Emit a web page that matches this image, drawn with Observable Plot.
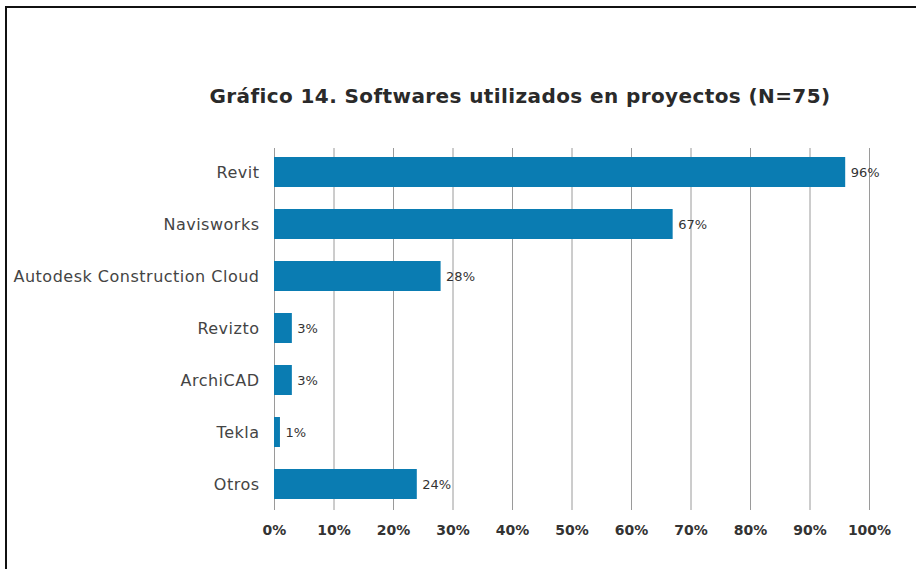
<!DOCTYPE html>
<html>
<head>
<meta charset="utf-8">
<script src="https://cdn.jsdelivr.net/npm/d3@7"></script>
<script src="https://cdn.jsdelivr.net/npm/@observablehq/plot@0.6"></script>
<style>
  html, body { margin: 0; padding: 0; background: #fff; width: 916px; height: 569px; overflow: hidden; }
  #frame { position: absolute; left: 5px; top: 6px; width: 1000px; height: 1000px; border: 2px solid #111; box-sizing: border-box; }
  #title { position: absolute; left: 0; top: 84px; width: 1040px; text-align: center; font-family: "DejaVu Sans", sans-serif; font-weight: bold; font-size: 20px; letter-spacing: 0.4px; color: #2a2a2a; }
  #chart { position: absolute; left: 0; top: 0; }
  #chart svg g[aria-label="y-axis tick label"] text { letter-spacing: 0.5px; }
</style>
</head>
<body>
<div id="frame"></div>
<div id="title">Gráfico 14. Softwares utilizados en proyectos (N=75)</div>
<div id="chart"></div>
<script>
const categories = ["Revit", "Navisworks", "Autodesk Construction Cloud", "Revizto", "ArchiCAD", "Tekla", "Otros"];
const values = [96, 67, 28, 3, 3, 1, 24];
const xTicks = [0, 10, 20, 30, 40, 50, 60, 70, 80, 90, 100];

const data = categories.map((c, i) => ({software: c, value: values[i]}));

const chart = Plot.plot({
  width: 916,
  height: 569,
  marginTop: 141,
  marginBottom: 54,
  marginLeft: 274,
  marginRight: 47,
  style: {fontFamily: "DejaVu Sans, sans-serif", background: "transparent"},
  x: {domain: [0, 100], ticks: xTicks, tickFormat: d => d + "%"},
  y: {domain: categories, paddingInner: 0.42, paddingOuter: 0.3},
  marks: [
    Plot.gridX(xTicks, {stroke: "#9a9a9a", strokeOpacity: 1, strokeWidth: 1, insetTop: 7, insetBottom: 5}),
    Plot.barX(data, {x: "value", y: "software", fill: "#0a7cb2"}),
    Plot.text(data, {x: "value", y: "software", text: d => d.value + "%", textAnchor: "start", dx: 5, fontSize: 13, fill: "#333"}),
    Plot.axisX({ticks: xTicks, tickFormat: d => d + "%", tickSize: 0, tickPadding: 10, fontSize: 14, fontWeight: "bold", color: "#333", label: null}),
    Plot.axisY({tickSize: 0, tickPadding: 15, fontSize: 16, color: "#444", label: null})
  ]
});
document.getElementById("chart").appendChild(chart);
</script>
</body>
</html>
